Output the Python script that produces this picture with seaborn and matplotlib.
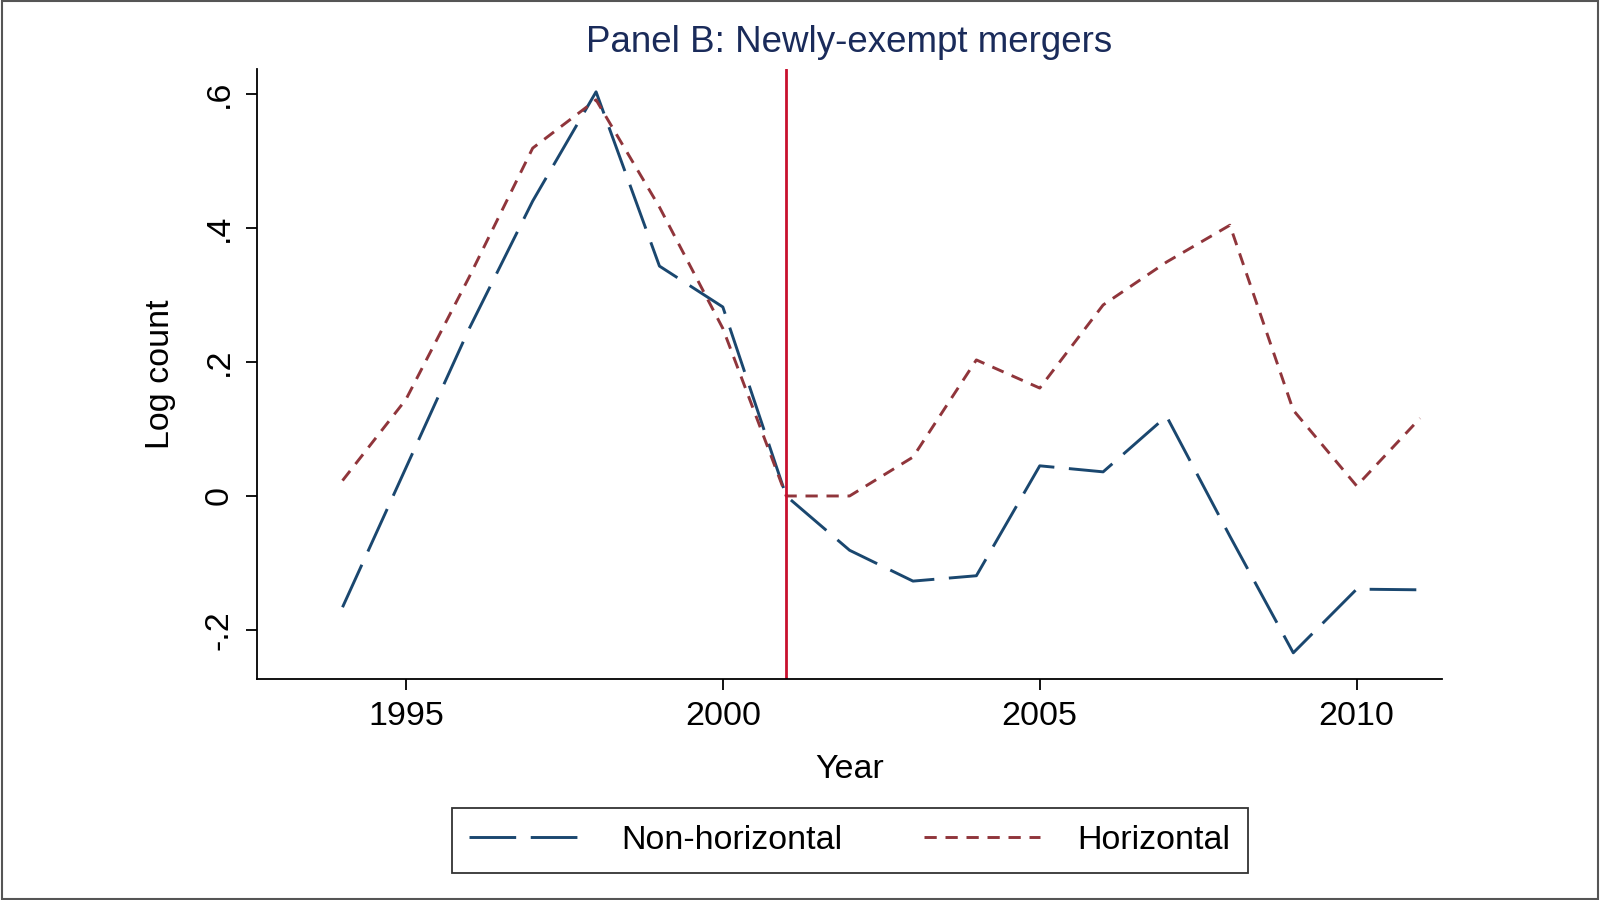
import pandas as pd
import numpy as np
import matplotlib
matplotlib.use("Agg")
import matplotlib.pyplot as plt
from matplotlib.patches import Rectangle
import seaborn as sns

# data
years = list(range(1994, 2012))
non_horizontal = [-0.166, 0.042, 0.25, 0.44, 0.603, 0.343, 0.282, 0.0, -0.081,
                  -0.127, -0.119, 0.045, 0.036, 0.119, -0.06, -0.234, -0.139, -0.14]
horizontal = [0.023, 0.144, 0.327, 0.519, 0.591, 0.431, 0.25, 0.0, 0.0,
              0.058, 0.203, 0.161, 0.285, 0.349, 0.404, 0.128, 0.015, 0.116]
series_names = ["Non-horizontal", "Horizontal"]
policy_year = 2001
y_ticks = [-0.2, 0, 0.2, 0.4, 0.6]
y_tick_labels = ["-.2", "0", ".2", ".4", ".6"]
x_ticks = [1995, 2000, 2005, 2010]

df = pd.DataFrame({
    "Year": years * 2,
    "value": non_horizontal + horizontal,
    "group": [series_names[0]] * len(years) + [series_names[1]] * len(years),
})

sns.set_style("white")
plt.rcParams["font.family"] = ["Liberation Sans", "DejaVu Sans"]
plt.rcParams["text.color"] = "black"
plt.rcParams["axes.labelcolor"] = "black"
plt.rcParams["xtick.color"] = "black"
plt.rcParams["ytick.color"] = "black"

fig = plt.figure(figsize=(16, 9), dpi=100)
ax = fig.add_axes([0.1606, 0.2456, 0.901 - 0.1606, 0.9233 - 0.2456])

palette = {"Non-horizontal": "#1a476f", "Horizontal": "#90353b"}
dashes = {"Non-horizontal": (16, 5), "Horizontal": (4.2, 3)}
sns.lineplot(data=df, x="Year", y="value", hue="group", style="group",
             palette=palette, dashes=dashes, linewidth=2.1, ax=ax, legend=False)

ax.axvline(policy_year, color="#c8102e", linewidth=2)

ax.set_xlim(1992.65, 2011.34)
ax.set_ylim(-0.273, 0.637)
ax.set_xticks(x_ticks)
ax.set_xticklabels([str(x) for x in x_ticks])
ax.set_yticks(y_ticks)
ax.set_yticklabels(y_tick_labels, rotation=90, va="center")
ax.tick_params(axis="both", labelsize=24.5, length=8, width=1.3, color="black",
               direction="out", bottom=True, left=True, pad=8)

for s in ["top", "right"]:
    ax.spines[s].set_visible(False)
for s in ["left", "bottom"]:
    ax.spines[s].set_color("black")
    ax.spines[s].set_linewidth(1.3)

ax.set_xlabel("Year", fontsize=24.5, labelpad=16)
ax.set_ylabel("Log count", fontsize=24.5, labelpad=20)
ax.set_title("Panel B: Newly-exempt mergers", fontsize=26.5, color="#1a2b5a", pad=12)

handles = [
    plt.Line2D([], [], color=palette[n], linewidth=2.1, dashes=dashes[n])
    for n in series_names
]
leg = fig.legend(handles, series_names, loc="center", bbox_to_anchor=(0.531, 0.066),
                 ncol=2, fontsize=24.5, frameon=True, fancybox=False,
                 edgecolor="black", handlelength=3.4, columnspacing=2.4,
                 handletextpad=1.1, borderpad=0.5, borderaxespad=0)
leg.get_frame().set_linewidth(1.3)

# outer figure border like the Stata graph region
fig.patches.append(Rectangle((0.001, 0.001), 0.998, 0.998, transform=fig.transFigure,
                             fill=False, edgecolor="#555555", linewidth=1.5))

plt.savefig("out.png", dpi=100)
plt.close()
